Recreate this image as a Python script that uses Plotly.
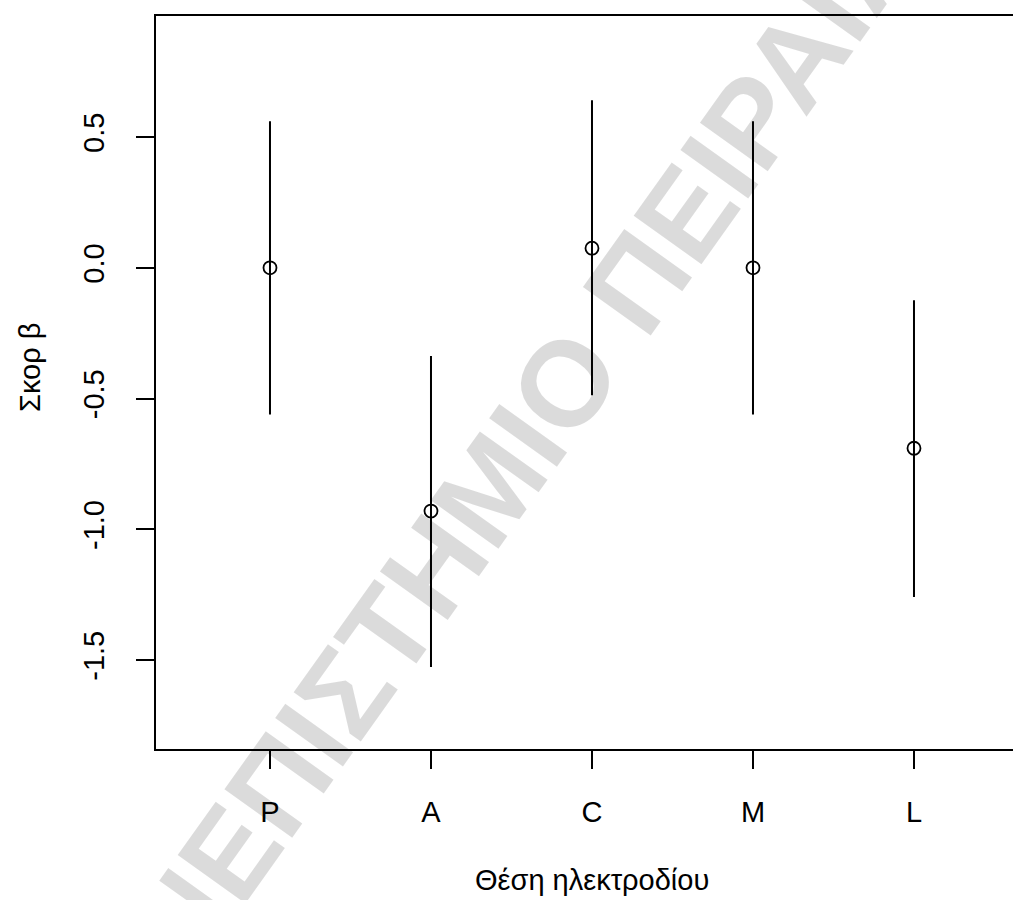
import plotly.graph_objects as go

# Data
categories = ["P", "A", "C", "M", "L"]
positions = [1, 2, 3, 4, 5]
means = [0.0, -0.93, 0.075, 0.0, -0.69]
upper = [0.561, -0.337, 0.641, 0.561, -0.124]
lower = [-0.561, -1.526, -0.487, -0.561, -1.259]
y_tickvals = [-1.5, -1.0, -0.5, 0.0, 0.5]
y_ticktext = ["-1.5", "-1.0", "-0.5", "0.0", "0.5"]
x_title = "Θέση ηλεκτροδίου"
y_title = "Σκορ β"
watermark = "ΠΑΝΕΠΙΣΤΗΜΙΟ ΠΕΙΡΑΙΑ"

err_plus = [u - m for u, m in zip(upper, means)]
err_minus = [m - l for m, l in zip(means, lower)]

FONT = "Liberation Sans, Arial, sans-serif"
W, H = 1040, 900          # figure a bit wider than the page; the page clips it (plot box is open on the right)
# plot area in page pixels: x 156..(beyond 1013), y 16..749
L, T, R = 156, 16, 0
B = H - 749
pw, ph = W - L - R, H - T - B
PX_PER_CAT = 161.0
X_LEFT = 0.292
X_RIGHT = X_LEFT + pw / PX_PER_CAT


def px(xp):
    return (xp - L) / pw


def py(yp):
    return (H - B - yp) / ph


fig = go.Figure()
fig.add_trace(go.Scatter(
    x=positions, y=means, mode="markers",
    marker=dict(symbol="circle-open", size=13, color="black", line=dict(width=1.8)),
    error_y=dict(type="data", symmetric=False, array=err_plus, arrayminus=err_minus,
                 width=0, thickness=2, color="black"),
    showlegend=False, hoverinfo="skip",
))

fig.update_layout(
    width=W, height=H,
    margin=dict(l=L, r=R, t=T, b=B, pad=0),
    plot_bgcolor="white", paper_bgcolor="white",
    font=dict(family=FONT, size=30, color="black"),
    xaxis=dict(
        range=[X_LEFT, X_RIGHT], tickmode="array", tickvals=positions, ticktext=categories,
        showgrid=False, zeroline=False, showline=True, linecolor="black", linewidth=2,
        mirror=True, ticks="outside", ticklen=18, tickwidth=2, tickcolor="black",
        ticklabelstandoff=18, tickfont=dict(size=29),
    ),
    yaxis=dict(
        range=[-1.840, 0.963], tickmode="array", tickvals=y_tickvals, ticktext=y_ticktext,
        showgrid=False, zeroline=False, showline=True, linecolor="black", linewidth=2,
        mirror=False, ticks="outside", ticklen=18, tickwidth=2, tickcolor="black",
        tickangle=-90, ticklabelstandoff=20, tickfont=dict(size=29),
    ),
    annotations=[
        dict(text=x_title, xref="paper", yref="paper", x=px(592), y=py(880),
             xanchor="center", yanchor="middle", showarrow=False, font=dict(size=29)),
        dict(text=y_title, xref="paper", yref="paper", x=px(30), y=py(368),
             xanchor="center", yanchor="middle", textangle=-90, showarrow=False,
             font=dict(size=29)),
        dict(text=watermark, xref="paper", yref="paper", x=px(473), y=py(512),
             xanchor="center", yanchor="middle", textangle=-54.5, showarrow=False,
             font=dict(size=121, color="rgba(0,0,0,0.14)", family=FONT, weight="bold")),
    ],
)

fig.write_html(
    "out.html",
    config={"displayModeBar": False, "staticPlot": True},
    post_script="document.body.style.margin='0';document.body.style.overflow='hidden';",
)
